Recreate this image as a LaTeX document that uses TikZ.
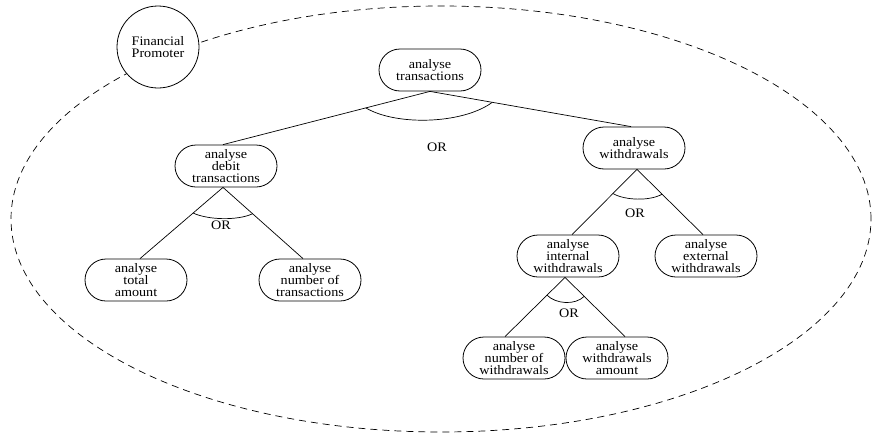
\documentclass[tikz,border=0pt]{standalone}
\usepackage{fontspec}
\setmainfont[FakeStretch=1.09]{Liberation Serif}
\usetikzlibrary{calc}
\begin{document}
\begin{tikzpicture}[x=1pt,y=-1pt,
  every node/.style={font=\fontsize{13}{12.3}\selectfont},
  goal/.style={draw,line width=0.8pt,rounded corners=21pt,minimum width=102pt,minimum height=42pt,align=center,inner sep=1pt,fill=white},
  actor/.style={draw,line width=0.8pt,circle,minimum size=82pt,align=center,inner sep=1pt,fill=white},
  link/.style={line width=0.7pt},
  orarc/.style={line width=0.7pt}]
\useasboundingbox (0,0) rectangle (872,434);
\draw[dashed,line width=0.7pt,dash pattern=on 7pt off 5pt] (441,219) ellipse [x radius=430pt, y radius=213pt];
\node[actor] (fp) at (158,47) {Financial\\Promoter};
\node[goal] (t) at (430,70) {analyse\\transactions};
\node[goal] (d) at (226,166) {analyse\\debit\\transactions};
\node[goal] (w) at (634,148) {analyse\\withdrawals};
\node[goal] (ta) at (136,280) {analyse\\total\\amount};
\node[goal] (nt) at (310,280) {analyse\\number of\\transactions};
\node[goal] (iw) at (568,256) {analyse\\internal\\withdrawals};
\node[goal] (ew) at (706,256) {analyse\\external\\withdrawals};
\node[goal] (nw) at (514,358) {analyse\\number of\\withdrawals};
\node[goal] (wa) at (617,358) {analyse\\withdrawals\\amount};
% apex and end coordinates
\coordinate (tA) at (t.south);
\coordinate (dT) at ([xshift=-3pt]d.north);
\coordinate (wT) at ([xshift=-3pt]w.north);
\coordinate (dA) at ([xshift=-3pt]d.south);
\coordinate (taT) at ([xshift=4pt]ta.north);
\coordinate (ntT) at ([xshift=-7pt]nt.north);
\coordinate (wA) at ([xshift=3pt]w.south);
\coordinate (iwT) at ([xshift=4pt]iw.north);
\coordinate (ewT) at ([xshift=-3pt]ew.north);
\coordinate (iwA) at ([xshift=-3pt]iw.south);
\coordinate (nwT) at ([xshift=-9pt]nw.north);
\coordinate (waT) at ([xshift=8pt]wa.north);
\draw[link] (dT) -- (tA) -- (wT);
\draw[link] (taT) -- (dA) -- (ntT);
\draw[link] (iwT) -- (wA) -- (ewT);
\draw[link] (nwT) -- (iwA) -- (waT);
\draw[orarc] ($(tA)!0.31!(dT)$) .. controls +(30,18) and +(-30,22) .. ($(tA)!0.31!(wT)$);
\draw[orarc] ($(dA)!0.36!(taT)$) .. controls +(15,7) and +(-15,7) .. ($(dA)!0.37!(ntT)$);
\draw[orarc] ($(wA)!0.37!(iwT)$) .. controls +(12,7) and +(-12,7) .. ($(wA)!0.38!(ewT)$);
\draw[orarc] ($(iwA)!0.30!(nwT)$) .. controls +(9,9) and +(-9,9) .. ($(iwA)!0.32!(waT)$);
\node (or1) at (437,147) {OR};
\node (or2) at (221,225) {OR};
\node (or3) at (635,213) {OR};
\node (or4) at (569,313) {OR};
\end{tikzpicture}
\end{document}
